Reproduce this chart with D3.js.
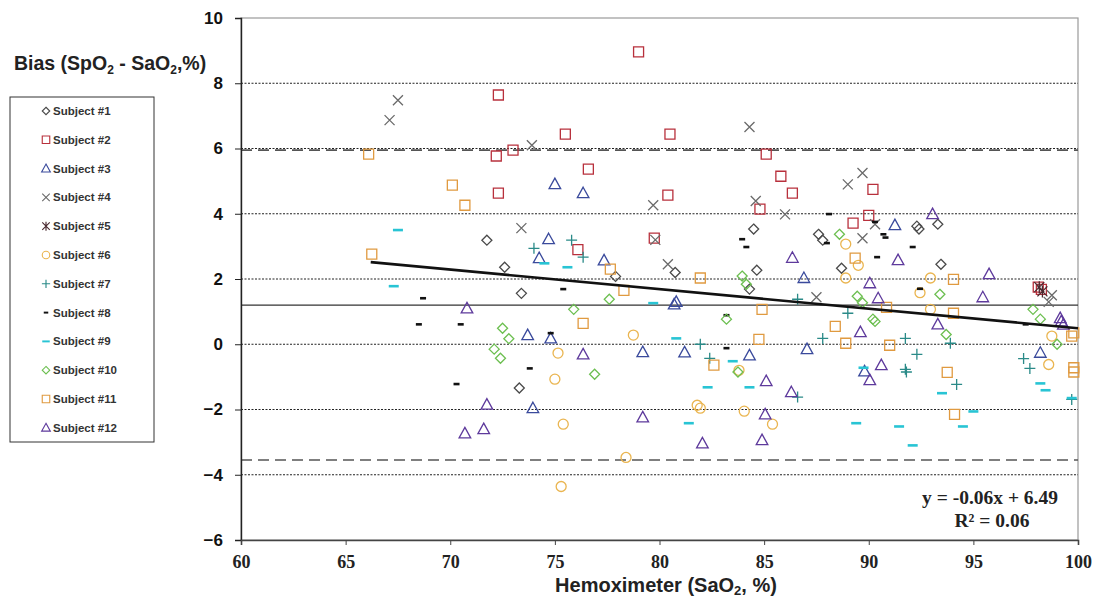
<!DOCTYPE html>
<html><head><meta charset="utf-8">
<script src="https://cdn.jsdelivr.net/npm/d3@7"></script>
<style>body{margin:0;background:#fff;} svg{display:block}</style>
</head><body><svg id="c" width="1097" height="603"></svg>
<script>
// ---- data (x = SaO2 %, y = bias) ----
const subject1 = [[71.75,3.19],[72.6,2.36],[73.4,1.56],[73.3,-1.34],[77.9,2.08],[80.75,2.2],[84.5,3.53],[84.65,2.27],[84.3,1.69],[87.6,3.37],[87.8,3.19],[88.7,2.33],[92.3,3.62],[92.4,3.53],[93.3,3.68],[93.45,2.45]];
const subject2 = [[72.3,7.64],[79.0,8.96],[72.2,5.77],[73.0,5.95],[72.3,4.63],[75.5,6.44],[80.5,6.44],[76.6,5.37],[76.1,2.9],[80.4,4.57],[79.75,3.25],[85.1,5.83],[85.8,5.15],[86.35,4.63],[84.8,4.14],[89.25,3.71],[90.0,3.95],[90.2,4.75],[98.1,1.75],[98.25,1.68]];
const subject3 = [[75.0,4.91],[76.35,4.63],[74.7,3.22],[74.25,2.64],[77.35,2.57],[86.9,2.03],[91.25,3.65],[80.7,1.22],[80.8,1.3],[74.8,0.18],[73.7,0.28],[89.8,-0.83],[98.2,-0.26],[79.2,-0.24],[81.2,-0.25],[73.95,-1.96],[87.05,-0.15],[84.3,-0.34]];
const subject4 = [[67.1,6.87],[67.5,7.48],[73.9,6.1],[73.4,3.56],[79.7,4.26],[79.8,3.2],[80.4,2.45],[84.3,6.66],[84.6,4.39],[86.0,3.98],[89.0,4.9],[89.7,5.25],[89.7,3.25],[87.5,1.44],[90.3,3.68],[98.6,1.3],[98.75,1.5]];
const subject5 = [[98.15,1.75],[98.3,1.62]];
const subject6 = [[75.15,-0.27],[75.0,-1.07],[75.4,-2.45],[75.3,-4.36],[78.4,-3.47],[78.75,0.28],[81.8,-1.87],[81.95,-1.96],[84.05,-2.05],[85.4,-2.45],[88.9,3.07],[89.5,2.42],[88.9,2.03],[92.95,2.03],[92.45,1.58],[92.95,1.07],[98.75,0.25],[98.6,-0.62],[83.8,-0.8]];
const subject7 = [[74.0,2.94],[75.8,3.19],[76.35,2.67],[81.95,0.0],[82.4,-0.43],[86.6,1.38],[89.0,0.95],[87.8,0.18],[86.6,-1.62],[91.75,0.18],[92.3,-0.31],[91.75,-0.77],[91.8,-0.85],[93.9,0.03],[94.2,-1.23],[97.4,-0.44],[97.7,-0.74],[99.7,-1.69]];
const subject8 = [[68.7,1.41],[68.5,0.61],[70.5,0.61],[70.3,-1.22],[73.8,-0.74],[74.8,0.34],[75.4,1.69],[83.2,0.89],[83.2,-0.12],[83.95,3.22],[84.15,2.98],[88.1,3.99],[88.0,3.1],[90.7,3.37],[90.8,3.27],[90.4,2.67],[92.1,2.98],[92.45,1.7],[97.5,0.61],[90.3,3.75]];
const subject9 = [[67.5,3.5],[67.3,1.78],[74.5,2.48],[75.6,2.36],[79.7,1.26],[80.8,0.18],[81.4,-2.42],[82.3,-1.32],[83.5,-0.52],[84.3,-1.32],[89.75,-0.72],[89.4,-2.42],[91.45,-2.52],[92.1,-3.1],[93.5,-1.5],[94.5,-2.52],[95.0,-2.06],[98.2,-1.2],[98.45,-1.41],[99.7,-1.65]];
const subject10 = [[72.5,0.49],[72.8,0.17],[72.1,-0.15],[72.4,-0.43],[75.9,1.07],[77.6,1.38],[76.9,-0.92],[83.2,0.77],[83.75,-0.85],[83.95,2.09],[84.15,1.84],[88.6,3.37],[89.45,1.47],[89.7,1.27],[90.2,0.77],[90.3,0.7],[93.4,1.53],[93.7,0.3],[97.85,1.07],[98.2,0.77],[99.0,0.0]];
const subject11 = [[66.1,5.83],[66.25,2.76],[70.1,4.88],[70.7,4.26],[76.35,0.64],[77.65,2.3],[78.3,1.65],[81.95,2.03],[82.6,-0.64],[84.9,1.07],[84.75,0.15],[88.4,0.55],[88.9,0.03],[89.35,2.64],[90.85,1.13],[91.0,-0.03],[94.05,1.99],[94.05,0.95],[93.75,-0.86],[94.1,-2.15],[99.7,0.25],[99.8,-0.72],[99.8,-0.85],[99.8,0.35]];
const subject12 = [[93.05,3.99],[86.35,2.65],[95.75,2.15],[95.45,1.44],[70.8,1.1],[71.75,-1.85],[70.7,-2.73],[71.6,-2.6],[85.1,-1.13],[86.3,-1.47],[82.05,-3.04],[84.9,-2.94],[85.05,-2.15],[99.15,0.8],[99.3,0.6],[99.2,0.7],[76.35,-0.31],[79.2,-2.24],[90.05,1.87],[90.45,1.41],[93.3,0.61],[90.6,-0.64],[90.05,-1.1],[91.4,2.58],[89.6,0.37]];

const subjectNames = ["Subject #1","Subject #2","Subject #3","Subject #4","Subject #5","Subject #6","Subject #7","Subject #8","Subject #9","Subject #10","Subject #11","Subject #12"];
const subjectColors = ["#4a4a4a","#b8303c","#3a4a9c","#6a6a6a","#4a2a30","#eab550","#2a8a88","#111111","#28c4d4","#6cbf50","#e09a40","#5e3a9c"];
const subjectShapes = ["diamond","square","triangle","x","asterisk","circle","plus","dashShort","dashLong","diamond","square","triangle"];
const subjectData = [subject1,subject2,subject3,subject4,subject5,subject6,subject7,subject8,subject9,subject10,subject11,subject12];

const xTicks = [60,65,70,75,80,85,90,95,100];
const yTicks = [-6,-4,-2,0,2,4,6,8,10];
const gridValues = [8,6,4,2,0,-2,-4];
const meanBias = 1.2, upperLimit = 5.95, lowerLimit = -3.55;
const slope = -0.06, intercept = 6.49, rSquared = 0.06;
const fitRange = [66.2, 100];

// ---- layout ----
const svg = d3.select("#c");
const L = 241, R = 1078, T = 18, B = 540;
const x = d3.scaleLinear().domain([60,100]).range([L,R]);
const y = d3.scaleLinear().domain([-6,10]).range([B,T]);

function shapePath(s){
  switch(s){
    case "square": return "M-5,-5h10v10h-10z";
    case "triangle": return "M0,-6L5.8,4.5L-5.8,4.5Z";
    case "diamond": return "M0,-5L5,0L0,5L-5,0Z";
    case "x": return "M-5,-5L5,5M5,-5L-5,5";
    case "asterisk": return "M-5,-5L5,5M5,-5L-5,5M0,-6V6";
    case "circle": return "M5,0A5,5 0 1,1 -5,0A5,5 0 1,1 5,0Z";
    case "plus": return "M-5.5,0H5.5M0,-5.5V5.5";
    case "dashShort": return "M-3,-1.3h6v2.6h-6z";
    case "dashLong": return "M-5,-1.3h10v2.6h-10z";
  }
}
const filled = s => s==="dashShort"||s==="dashLong";

// frame (top/right grey)
svg.append("rect").attr("x",L).attr("y",T).attr("width",R-L).attr("height",B-T)
  .attr("fill","none").attr("stroke","#9a9a9a").attr("stroke-width",1.2);

// dotted grid
svg.append("g").selectAll("line").data(gridValues).join("line")
  .attr("x1",L).attr("x2",R).attr("y1",d=>y(d)).attr("y2",d=>y(d))
  .attr("stroke","#222").attr("stroke-width",1).attr("stroke-dasharray","2,1.5");

// limits of agreement (dashed) and mean bias
svg.append("g").selectAll("line").data([upperLimit,lowerLimit]).join("line")
  .attr("x1",L).attr("x2",R).attr("y1",d=>y(d)).attr("y2",d=>y(d))
  .attr("stroke","#555").attr("stroke-width",1.6).attr("stroke-dasharray","11,6");
svg.append("line").attr("x1",L).attr("x2",R).attr("y1",y(meanBias)).attr("y2",y(meanBias))
  .attr("stroke","#333").attr("stroke-width",1.2);

// points
subjectData.forEach((data,i)=>{
  const shp = subjectShapes[i], col = subjectColors[i];
  svg.append("g").selectAll("path").data(data).join("path")
    .attr("d",shapePath(shp))
    .attr("transform",d=>`translate(${x(d[0])},${y(d[1])})`)
    .attr("fill",filled(shp)?col:"none")
    .attr("stroke",filled(shp)?"none":col)
    .attr("stroke-width",1.3);
});

// regression line
svg.append("line")
  .attr("x1",x(fitRange[0])).attr("y1",y(slope*fitRange[0]+intercept))
  .attr("x2",x(fitRange[1])).attr("y2",y(slope*fitRange[1]+intercept))
  .attr("stroke","#111").attr("stroke-width",2.6);

// axes
const yAxis = svg.append("g").attr("transform",`translate(${L},0)`)
  .call(d3.axisLeft(y).tickValues(yTicks).tickSize(6).tickPadding(12).tickFormat(d3.format("d")));
yAxis.select(".domain").attr("stroke","#222").attr("stroke-width",1.4);
yAxis.selectAll(".tick line").attr("stroke","#222");
yAxis.selectAll("text").attr("font-family","Arial, 'Liberation Sans', sans-serif")
  .attr("font-weight","bold").attr("font-size",17).attr("fill","#111");

const xAxis = svg.append("g").attr("transform",`translate(0,${B})`)
  .call(d3.axisBottom(x).tickValues(xTicks).tickSize(5).tickPadding(10).tickFormat(d3.format("d")));
xAxis.select(".domain").attr("stroke","#444").attr("stroke-width",1.6);
xAxis.selectAll(".tick line").attr("stroke","#444");
xAxis.selectAll("text").attr("font-family","'Times New Roman', 'Liberation Serif', serif")
  .attr("font-weight","bold").attr("font-size",18).attr("fill","#222");

// titles
const yt = svg.append("text").attr("x",14).attr("y",70)
  .attr("font-family","Arial, 'Liberation Sans', sans-serif").attr("font-weight","bold")
  .attr("font-size",19.5).attr("fill","#222");
yt.append("tspan").text("Bias (SpO");
yt.append("tspan").text("2").attr("font-size",12).attr("dy",4);
yt.append("tspan").text(" - SaO").attr("dy",-4);
yt.append("tspan").text("2").attr("font-size",12).attr("dy",4);
yt.append("tspan").text(",%)").attr("dy",-4);

const xt = svg.append("text").attr("x",666).attr("y",592).attr("text-anchor","middle")
  .attr("font-family","Arial, 'Liberation Sans', sans-serif").attr("font-weight","bold")
  .attr("font-size",20).attr("fill","#222");
xt.append("tspan").text("Hemoximeter (SaO");
xt.append("tspan").text("2").attr("font-size",13).attr("dy",3);
xt.append("tspan").text(", %)").attr("dy",-3);

// equation
svg.append("text").attr("x",1058).attr("y",504).attr("text-anchor","end")
  .attr("font-family","'Times New Roman', 'Liberation Serif', serif").attr("font-weight","bold")
  .attr("font-size",19.5).attr("fill","#222")
  .text(`y = ${slope.toFixed(2)}x + ${intercept.toFixed(2)}`);
svg.append("text").attr("x",992).attr("y",527).attr("text-anchor","middle")
  .attr("font-family","'Times New Roman', 'Liberation Serif', serif").attr("font-weight","bold")
  .attr("font-size",19.5).attr("fill","#222")
  .text(`R² = ${rSquared.toFixed(2)}`);

// legend
const lg = svg.append("g");
lg.append("rect").attr("x",10).attr("y",97).attr("width",144).attr("height",345)
  .attr("fill","#fff").attr("stroke","#333").attr("stroke-width",1);
subjectNames.forEach((n,i)=>{
  const yy = 111 + i*28.8;
  const shp = subjectShapes[i], col = subjectColors[i];
  lg.append("path").attr("d",shapePath(shp))
    .attr("transform",`translate(46,${yy}) scale(0.75)`)
    .attr("fill",filled(shp)?col:"none").attr("stroke",filled(shp)?"none":col).attr("stroke-width",1.5);
  lg.append("text").attr("x",53).attr("y",yy+4).text(n)
    .attr("font-family","Arial, 'Liberation Sans', sans-serif").attr("font-weight","bold")
    .attr("font-size",11.5).attr("fill","#333");
});
</script></body></html>
